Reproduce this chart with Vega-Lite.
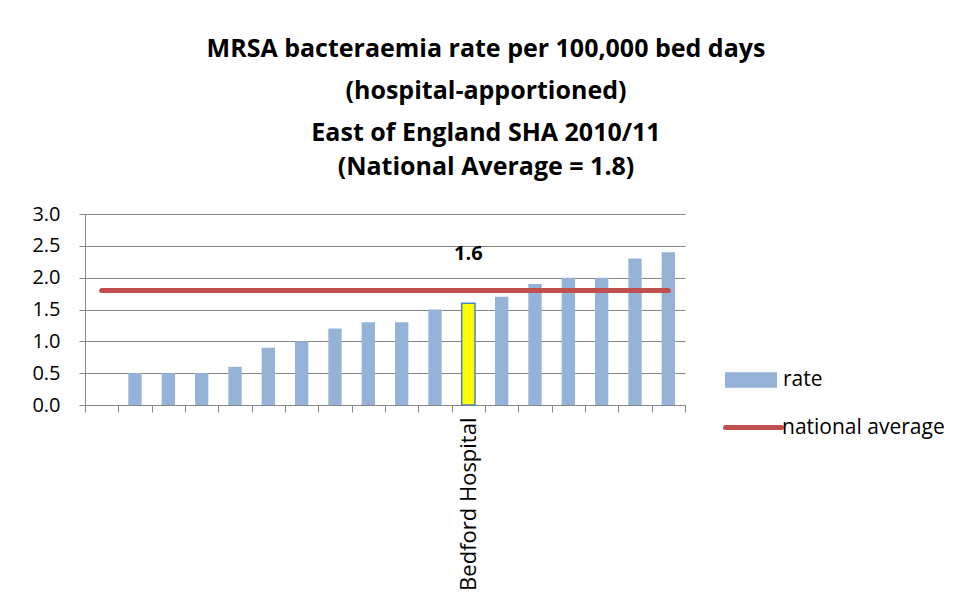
{
  "$schema": "https://vega.github.io/schema/vega-lite/v6.json",
  "width": 600,
  "height": 191,
  "autosize": {"type": "none"},
  "padding": {"left": 85, "top": 214, "right": 294, "bottom": 211},
  "background": "white",
  "config": {
    "view": {"stroke": null},
    "font": "Open Sans",
    "axisY": {
      "domainColor": "#868686",
      "tickColor": "#868686",
      "gridColor": "#868686",
      "tickSize": 6,
      "labelPadding": 19,
      "labelFont": "Open Sans",
      "labelFontSize": 20,
      "labelColor": "#000000",
      "labelOverlap": false
    }
  },
  "title": {
    "text": ["MRSA bacteraemia rate per 100,000 bed days", "(hospital-apportioned)", "East of England SHA 2010/11"],
    "subtitle": "(National Average = 1.8)",
    "font": "Open Sans",
    "fontSize": 25,
    "fontWeight": "bold",
    "color": "#000000",
    "lineHeight": 42,
    "subtitleFont": "Open Sans",
    "subtitleFontSize": 25,
    "subtitleFontWeight": "bold",
    "subtitleColor": "#000000",
    "subtitlePadding": 9,
    "anchor": "middle",
    "dx": 101,
    "offset": 24
  },
  "data": {
    "values": [
      {"hospital": "H01", "rate": null, "national": 1.8},
      {"hospital": "H02", "rate": 0.5, "national": 1.8},
      {"hospital": "H03", "rate": 0.5, "national": 1.8},
      {"hospital": "H04", "rate": 0.5, "national": 1.8},
      {"hospital": "H05", "rate": 0.6, "national": 1.8},
      {"hospital": "H06", "rate": 0.9, "national": 1.8},
      {"hospital": "H07", "rate": 1.0, "national": 1.8},
      {"hospital": "H08", "rate": 1.2, "national": 1.8},
      {"hospital": "H09", "rate": 1.3, "national": 1.8},
      {"hospital": "H10", "rate": 1.3, "national": 1.8},
      {"hospital": "H11", "rate": 1.5, "national": 1.8},
      {"hospital": "Bedford Hospital", "rate": 1.6, "national": 1.8},
      {"hospital": "H13", "rate": 1.7, "national": 1.8},
      {"hospital": "H14", "rate": 1.9, "national": 1.8},
      {"hospital": "H15", "rate": 2.0, "national": 1.8},
      {"hospital": "H16", "rate": 2.0, "national": 1.8},
      {"hospital": "H17", "rate": 2.3, "national": 1.8},
      {"hospital": "H18", "rate": 2.4, "national": 1.8}
    ]
  },
  "encoding": {
    "x": {
      "field": "hospital",
      "type": "nominal",
      "sort": null,
      "scale": {
        "domain": ["H01", "H02", "H03", "H04", "H05", "H06", "H07", "H08", "H09", "H10", "H11", "Bedford Hospital", "H13", "H14", "H15", "H16", "H17", "H18"],
        "paddingInner": 0,
        "paddingOuter": 0
      },
      "axis": {
        "title": null,
        "domainColor": "#868686",
        "tickColor": "#868686",
        "tickSize": 7,
        "tickBand": "extent",
        "labelAngle": -90,
        "labelFont": "Open Sans",
        "labelFontSize": 22,
        "labelColor": "#000000",
        "labelPadding": 5,
        "labelLimit": 300,
        "labelExpr": "datum.value == 'Bedford Hospital' ? datum.value : ''"
      }
    }
  },
  "layer": [
    {
      "mark": {"type": "bar", "width": {"band": 0.4}},
      "encoding": {
        "y": {
          "field": "rate",
          "type": "quantitative",
          "scale": {"domain": [0, 3]},
          "axis": {"title": null, "values": [0, 0.5, 1, 1.5, 2, 2.5, 3], "format": ".1f"}
        },
        "fill": {
          "datum": "rate",
          "scale": {"domain": ["rate"], "range": ["#95B3D7"]},
          "legend": {
            "title": null,
            "orient": "none",
            "legendX": 640,
            "legendY": 140,
            "symbolType": "M-1,-0.3H1V0.3H-1Z",
            "symbolSize": 2704,
            "symbolStrokeWidth": 0,
            "labelFont": "Open Sans",
            "labelFontSize": 21,
            "labelColor": "#000000",
            "labelOffset": 6,
            "labelLimit": 300
          }
        }
      }
    },
    {
      "transform": [{"filter": "datum.hospital == 'Bedford Hospital'"}],
      "mark": {"type": "bar", "width": {"band": 0.4}, "fill": "#FFFF00", "stroke": "#4F81BD", "strokeWidth": 1.5},
      "encoding": {
        "y": {"field": "rate", "type": "quantitative", "axis": {"title": null, "values": [0, 0.5, 1, 1.5, 2, 2.5, 3], "format": ".1f"}}
      }
    },
    {
      "mark": {"type": "line", "strokeWidth": 5, "strokeCap": "round"},
      "encoding": {
        "y": {"field": "national", "type": "quantitative", "axis": {"title": null, "values": [0, 0.5, 1, 1.5, 2, 2.5, 3], "format": ".1f"}},
        "stroke": {
          "datum": "national average",
          "scale": {"domain": ["national average"], "range": ["#C0504D"]},
          "legend": {
            "title": null,
            "orient": "none",
            "legendX": 638,
            "legendY": 183,
            "symbolType": "stroke",
            "symbolSize": 3136,
            "symbolStrokeWidth": 5,
            "labelFont": "Open Sans",
            "labelFontSize": 21,
            "labelColor": "#000000",
            "labelOffset": -2,
            "labelLimit": 300,
            "encode": {"symbols": {"update": {"strokeCap": {"value": "round"}}}}
          }
        }
      }
    },
    {
      "transform": [{"filter": "datum.hospital == 'Bedford Hospital'"}],
      "mark": {"type": "text", "font": "Open Sans", "fontSize": 20, "fontWeight": "bold", "dy": -49, "color": "#000000"},
      "encoding": {
        "y": {"field": "rate", "type": "quantitative", "axis": {"title": null, "values": [0, 0.5, 1, 1.5, 2, 2.5, 3], "format": ".1f"}},
        "text": {"field": "rate", "type": "quantitative", "format": ".1f"}
      }
    }
  ]
}
